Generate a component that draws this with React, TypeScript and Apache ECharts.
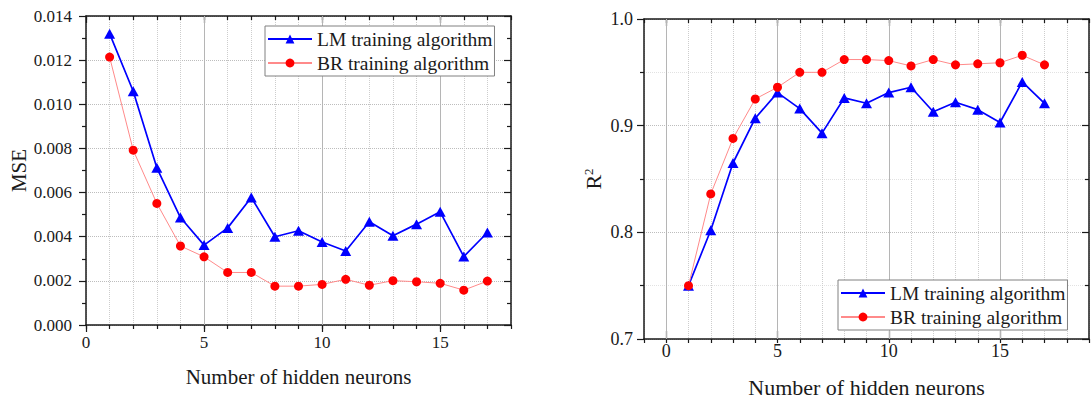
import { useEffect, useRef } from "react";
import * as echarts from "echarts";

// Number of hidden neurons tested
const neurons = [1, 2, 3, 4, 5, 6, 7, 8, 9, 10, 11, 12, 13, 14, 15, 16, 17];

// Mean squared error per network size
const mseLM = [0.0132, 0.01059, 0.00712, 0.00487, 0.00362, 0.0044, 0.00578, 0.004, 0.00427, 0.00376, 0.00335, 0.00468, 0.00404, 0.00457, 0.00513, 0.0031, 0.00419];
const mseBR = [0.01214, 0.00792, 0.00551, 0.00358, 0.00309, 0.00238, 0.00238, 0.00176, 0.00176, 0.00184, 0.00207, 0.0018, 0.00201, 0.00196, 0.00189, 0.00158, 0.00199];

// Coefficient of determination per network size
const r2LM = [0.75, 0.802, 0.865, 0.907, 0.931, 0.916, 0.893, 0.926, 0.921, 0.931, 0.936, 0.913, 0.922, 0.915, 0.903, 0.941, 0.921];
const r2BR = [0.75, 0.836, 0.888, 0.925, 0.936, 0.95, 0.95, 0.962, 0.962, 0.961, 0.956, 0.962, 0.957, 0.958, 0.959, 0.966, 0.957];

// Labelled x ticks and solid reference lines
const mseMajorX = [0, 5, 10, 15];
const r2MajorX = [0, 5, 10, 15];
const mseRefLines = [5, 10, 15];
const r2RefLines = [0, 5, 10, 15];

const LM_NAME = "LM training algorithm";
const BR_NAME = "BR training algorithm";
const X_TITLE = "Number of hidden neurons";

const FONT = "'Liberation Serif', 'Times New Roman', serif";
const INK = "#1a1a1a";
const AXIS_W = 1.5;

function minorX(gridIndex: number, position: string, min: number, max: number, inside: boolean, split: boolean) {
  return {
    type: "value",
    gridIndex,
    position,
    min,
    max,
    interval: 1,
    axisLine: { show: true, onZero: false, lineStyle: { color: INK, width: AXIS_W } },
    axisTick: { show: true, inside, length: 4, lineStyle: { color: INK, width: 1.2 } },
    axisLabel: { show: false },
    splitLine: { show: split, lineStyle: { color: "#cdcdcd", type: "dotted", width: 1 } },
  };
}

function majorX(
  gridIndex: number,
  position: string,
  min: number,
  max: number,
  inside: boolean,
  ticks: number[],
  labels: boolean,
  fontSize: number,
  margin: number,
  name?: string,
  nameSize?: number,
  nameGap?: number
) {
  return {
    type: "value",
    gridIndex,
    position,
    min,
    max,
    axisLine: { show: false, onZero: false },
    axisTick: { show: true, inside, length: 7, customValues: ticks, lineStyle: { color: INK, width: 1.2 } },
    axisLabel: {
      show: labels,
      customValues: ticks,
      margin,
      fontSize,
      fontFamily: FONT,
      color: INK,
    },
    splitLine: { show: false },
    name,
    nameLocation: "middle",
    nameGap,
    nameTextStyle: { fontSize: nameSize, fontFamily: FONT, color: INK },
  };
}

function valueY(
  gridIndex: number,
  position: string,
  min: number,
  max: number,
  interval: number,
  inside: boolean,
  labels: boolean,
  digits: number,
  fontSize: number,
  margin: number,
  grid: boolean,
  minorGrid: boolean
) {
  return {
    type: "value",
    gridIndex,
    position,
    min,
    max,
    interval,
    axisLine: { show: true, onZero: false, lineStyle: { color: INK, width: AXIS_W } },
    axisTick: { show: true, inside, length: 7, lineStyle: { color: INK, width: 1.2 } },
    minorTick: { show: true, splitNumber: 2, length: 4, lineStyle: { color: INK, width: 1.2 } },
    axisLabel: {
      show: labels,
      margin,
      fontSize,
      fontFamily: FONT,
      color: INK,
      formatter: (v: number) => v.toFixed(digits),
    },
    splitLine: { show: grid, lineStyle: { color: "#bdbdbd", type: "dotted", width: 1 } },
    minorSplitLine: { show: minorGrid, lineStyle: { color: "#e2e2e2", type: "dotted", width: 1 } },
  };
}

function hiddenY(gridIndex: number) {
  return { type: "value", gridIndex, show: false, min: 0, max: 1 };
}

function lmSeries(values: number[], xi: number, yi: number, refLines: number[]) {
  return {
    type: "line",
    name: LM_NAME,
    xAxisIndex: xi,
    yAxisIndex: yi,
    data: neurons.map((n, i) => [n, values[i]]),
    symbol: "triangle",
    symbolSize: [11, 10],
    itemStyle: { color: "#0000ff" },
    lineStyle: { color: "#0000ff", width: 1.7 },
    z: 3,
    markLine: {
      silent: true,
      symbol: "none",
      z: 1,
      animation: false,
      label: { show: false },
      lineStyle: { color: "#b5b5b5", type: "solid", width: 1 },
      emphasis: { disabled: true },
      data: refLines.map((v) => ({ xAxis: v })),
    },
  };
}

function brSeries(values: number[], xi: number, yi: number) {
  return {
    type: "line",
    name: BR_NAME,
    xAxisIndex: xi,
    yAxisIndex: yi,
    data: neurons.map((n, i) => [n, values[i]]),
    symbol: "circle",
    symbolSize: 9,
    itemStyle: { color: "#ff0000" },
    lineStyle: { color: "#ff8a8a", width: 1 },
    z: 4,
  };
}

function legendBox(left: number, top: number) {
  return {
    data: [LM_NAME, BR_NAME],
    orient: "vertical",
    left,
    top,
    itemWidth: 44,
    itemHeight: 11,
    itemGap: 4,
    padding: [3, 2, 3, 2],
    backgroundColor: "#ffffff",
    borderColor: "#808080",
    borderWidth: 1,
    borderRadius: 0,
    textStyle: { fontSize: 19.5, fontFamily: FONT, color: INK },
  };
}

export default function App() {
  const ref = useRef<HTMLDivElement>(null);

  useEffect(() => {
    if (!ref.current) return;
    const chart = echarts.init(ref.current, undefined, { renderer: "svg" });

    const mseGrid = { left: 86, top: 16, width: 425, height: 309 };
    const r2Grid = { left: 644, top: 19, width: 445, height: 320 };

    chart.setOption({
      animation: false,
      backgroundColor: "#ffffff",
      textStyle: { fontFamily: FONT },
      grid: [mseGrid, mseGrid, r2Grid, r2Grid],
      legend: [legendBox(265, 26), legendBox(838, 280)],
      xAxis: [
        minorX(0, "bottom", 0, 18, false, true),
        minorX(0, "top", 0, 18, true, false),
        majorX(1, "bottom", 0, 18, false, mseMajorX, true, 17, 9, X_TITLE, 21, 41),
        majorX(1, "top", 0, 18, true, mseMajorX, false, 17, 9),
        minorX(2, "bottom", -1, 19, false, true),
        minorX(2, "top", -1, 19, true, false),
        majorX(3, "bottom", -1, 19, false, r2MajorX, true, 18, 11, X_TITLE, 22, 45),
        majorX(3, "top", -1, 19, true, r2MajorX, false, 18, 11),
      ],
      yAxis: [
        {
          ...valueY(0, "left", 0, 0.014, 0.002, false, true, 3, 17, 14, true, false),
          name: "MSE",
          nameLocation: "middle",
          nameGap: 56,
          nameTextStyle: { fontSize: 21, fontFamily: FONT, color: INK },
        },
        valueY(0, "right", 0, 0.014, 0.002, true, false, 3, 17, 14, false, false),
        hiddenY(1),
        {
          ...valueY(2, "left", 0.7, 1.0, 0.1, false, true, 1, 18, 11, true, true),
          name: "{r|R}{s|2}",
          nameLocation: "middle",
          nameGap: 40,
          nameTextStyle: {
            color: INK,
            fontFamily: FONT,
            rich: {
              r: { fontSize: 22, fontFamily: FONT, color: INK },
              s: { fontSize: 13, fontFamily: FONT, color: INK, verticalAlign: "top" },
            },
          },
        },
        valueY(2, "right", 0.7, 1.0, 0.1, true, false, 1, 18, 11, false, false),
        hiddenY(3),
      ],
      series: [
        lmSeries(mseLM, 0, 0, mseRefLines),
        brSeries(mseBR, 0, 0),
        lmSeries(r2LM, 4, 3, r2RefLines),
        brSeries(r2BR, 4, 3),
      ],
    });

    return () => chart.dispose();
  }, []);

  return (
    <div
      ref={ref}
      style={{ position: "fixed", left: 0, top: 0, width: 1092, height: 403, background: "#fff" }}
    />
  );
}
